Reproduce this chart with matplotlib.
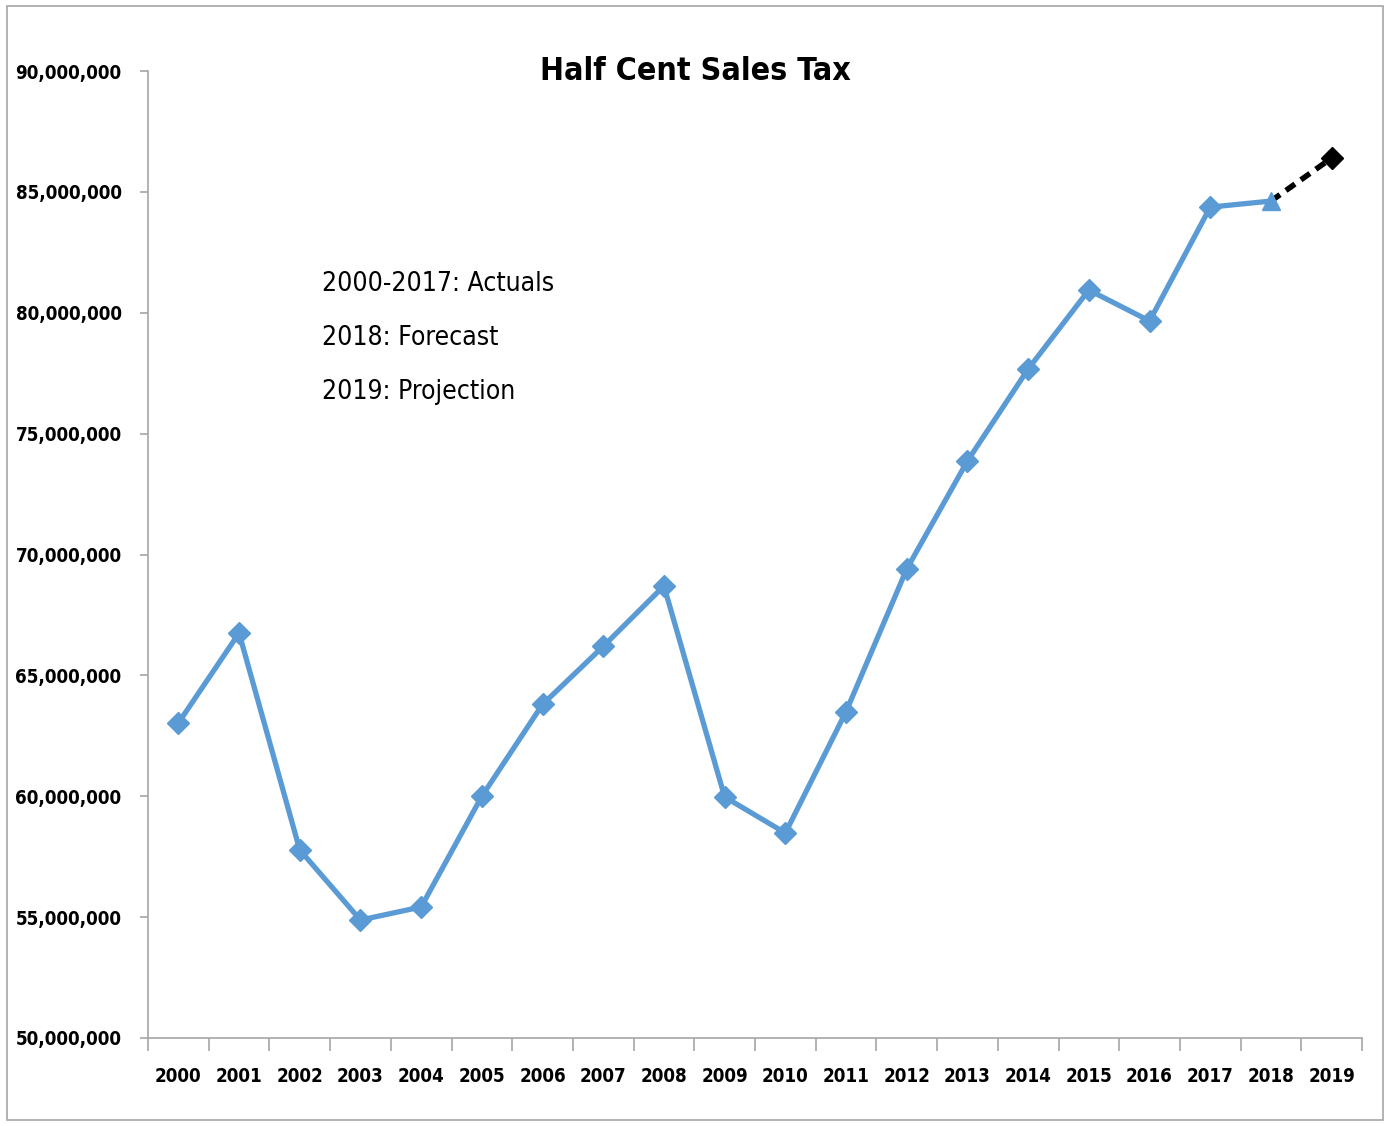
import matplotlib
matplotlib.use("Agg")
import matplotlib.pyplot as plt
from matplotlib.ticker import FuncFormatter
from matplotlib.patches import Rectangle

years = ["2000", "2001", "2002", "2003", "2004", "2005", "2006", "2007", "2008", "2009",
         "2010", "2011", "2012", "2013", "2014", "2015", "2016", "2017", "2018", "2019"]
actuals = [63.03e6, 66.75e6, 57.78e6, 54.88e6, 55.42e6, 60.0e6, 63.8e6, 66.2e6, 68.7e6, 59.97e6,
           58.48e6, 63.5e6, 69.4e6, 73.87e6, 77.67e6, 80.94e6, 79.66e6, 84.37e6]
forecast_2018 = 84.62e6
projection_2019 = 86.4e6
yticks = [50e6, 55e6, 60e6, 65e6, 70e6, 75e6, 80e6, 85e6, 90e6]

FONT = "DejaVu Sans"
blue = "#5B9BD5"

fig = plt.figure(figsize=(13.9, 11.26), dpi=100)
fig.patches.append(Rectangle((7/1390, 1 - 1120/1126), 1376/1390, 1114/1126,
                             transform=fig.transFigure, fill=False,
                             edgecolor="#A6A6A6", linewidth=1.2))
ax = fig.add_axes([148/1390, 1 - 1038/1126, (1362 - 148)/1390, (1038 - 71)/1126])

x_act = list(range(len(actuals)))
x18 = len(actuals)
x19 = x18 + 1
ax.plot(x_act + [x18], actuals + [forecast_2018], color=blue, lw=3.8, zorder=3)
ax.plot(x_act, actuals, linestyle="none", marker="D", ms=11, color=blue, zorder=4)
ax.plot([x18], [forecast_2018], linestyle="none", marker="^", ms=13, color=blue, zorder=4)
ax.plot([x18, x19], [forecast_2018, projection_2019], color="black", lw=4,
        linestyle=(0, (2, 1.3)), zorder=3)
ax.plot([x19], [projection_2019], linestyle="none", marker="D", ms=11, color="black", zorder=4)

ax.set_xlim(-0.5, len(years) - 0.5)
ax.set_ylim(50e6, 90e6)
ax.set_yticks(yticks)
ax.yaxis.set_major_formatter(FuncFormatter(lambda v, p: f"{v:,.0f}"))
ax.set_xticks([i - 0.5 for i in range(len(years) + 1)])
ax.set_xticklabels([])
ax.set_xticks(range(len(years)), minor=True)
ax.set_xticklabels(years, minor=True)
ax.tick_params(axis="x", which="major", length=9.5, width=1.2, color="#A6A6A6", direction="out")
ax.tick_params(axis="x", which="minor", length=0, pad=21)
ax.tick_params(axis="y", length=6, width=1.2, color="#A6A6A6", pad=13)
for lab in ax.get_xticklabels(minor=True) + ax.get_yticklabels():
    lab.set_fontfamily(FONT)
    lab.set_fontstretch("condensed")
    lab.set_fontweight("bold")
    lab.set_fontsize(13.5)
for s in ["top", "right"]:
    ax.spines[s].set_visible(False)
for s in ["left", "bottom"]:
    ax.spines[s].set_color("#A6A6A6")
    ax.spines[s].set_linewidth(1.2)

fig.text(695/1390, 1 - 72/1126, "Half Cent Sales Tax", ha="center", va="center",
         fontsize=23, fontweight="bold", fontfamily=FONT, fontstretch="condensed")
ann = ["2000-2017: Actuals", "2018: Forecast", "2019: Projection"]
for i, t in enumerate(ann):
    fig.text(322/1390, 1 - (284 + i * 54)/1126, t, ha="left", va="center",
             fontsize=19, fontfamily=FONT, fontstretch="condensed")

fig.savefig("out.png", dpi=100, facecolor="white")
